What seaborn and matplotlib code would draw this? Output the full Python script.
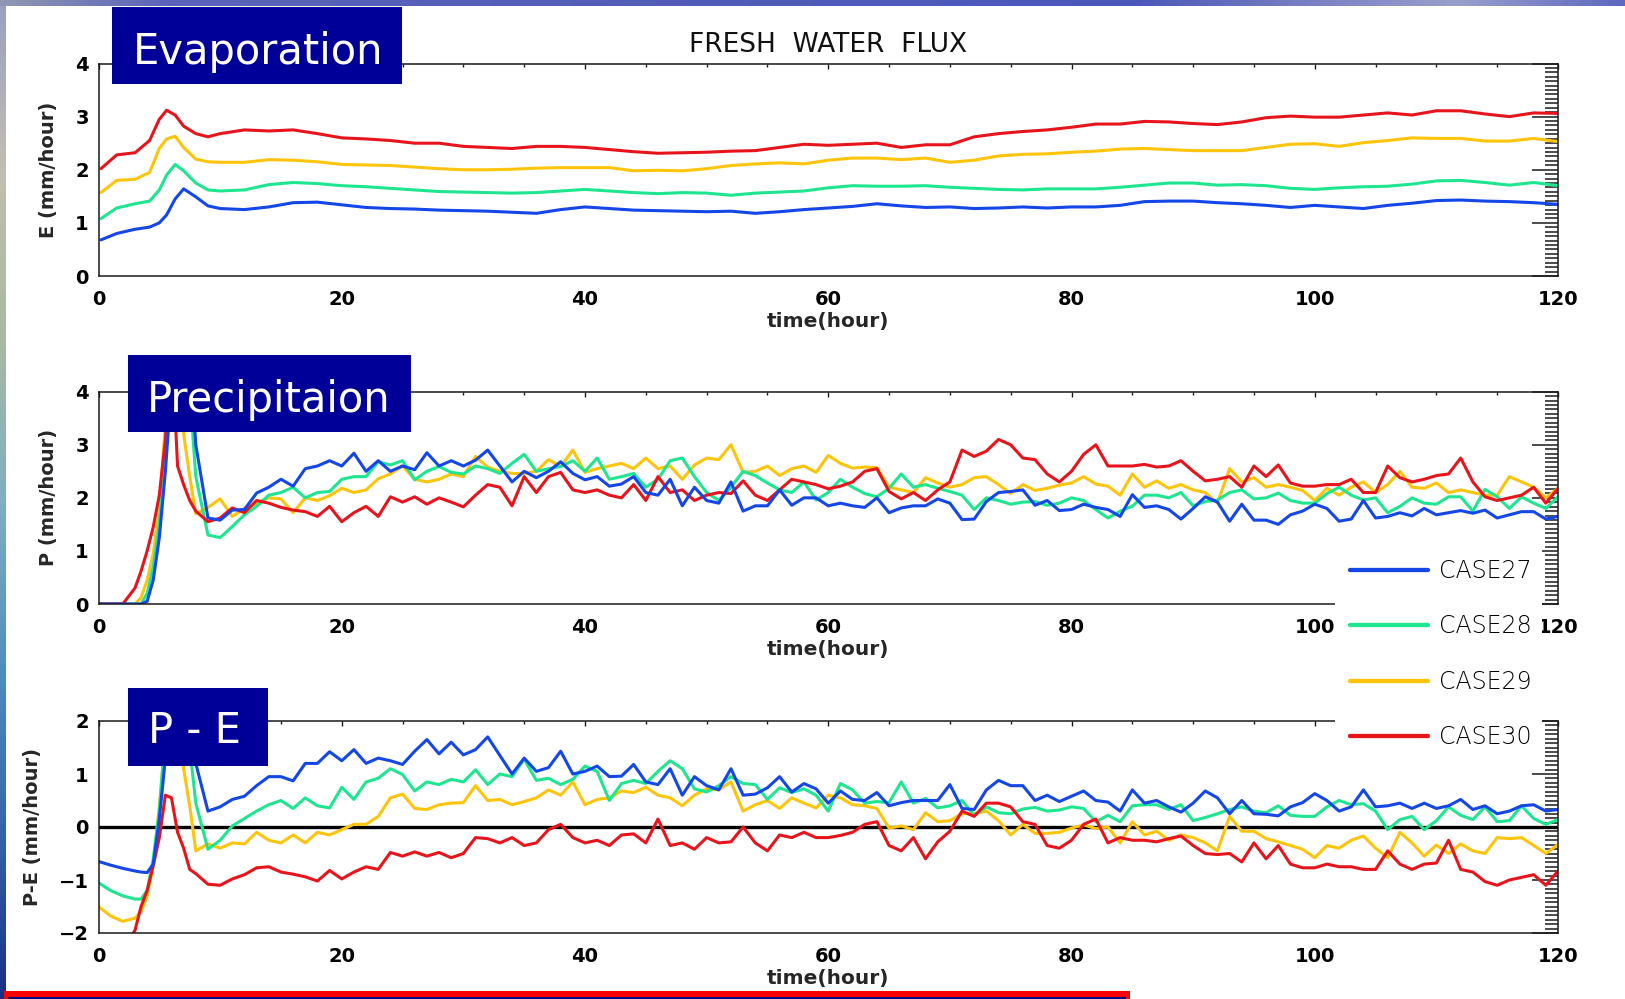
import numpy as np
import pandas as pd
import matplotlib
matplotlib.use("Agg")
import matplotlib.pyplot as plt
from matplotlib.patches import Rectangle
from matplotlib.lines import Line2D
from matplotlib.ticker import MultipleLocator
from matplotlib.colors import LinearSegmentedColormap
import seaborn as sns

W, H = 1625, 999

cases = ["CASE27", "CASE28", "CASE29", "CASE30"]
case_colors = {"CASE27": "#1446e8", "CASE28": "#1ee68f",
               "CASE29": "#fdc40c", "CASE30": "#e8141c"}
draw_order = ["CASE29", "CASE28", "CASE30", "CASE27"]

# ---------------- evaporation (smooth, sampled every 2 h after the spin-up) ----
hours_e = [0.2, 1.5, 3, 4.2, 5, 5.6, 6.3, 7, 8, 9, 10] + list(range(12, 121, 2))

evap_27 = [0.68, 0.8, 0.88, 0.92, 1.0, 1.15, 1.45, 1.64, 1.49, 1.32, 1.27,
           1.25, 1.3, 1.38, 1.39, 1.34, 1.29, 1.27, 1.26, 1.24, 1.23,
           1.22, 1.2, 1.18, 1.25, 1.3, 1.27, 1.24, 1.23, 1.22, 1.21,
           1.22, 1.18, 1.21, 1.25, 1.28, 1.31, 1.36, 1.32, 1.29, 1.3,
           1.27, 1.28, 1.3, 1.28, 1.3, 1.3, 1.33, 1.4, 1.41, 1.41,
           1.38, 1.36, 1.33, 1.29, 1.33, 1.3, 1.27, 1.33, 1.37, 1.42,
           1.43, 1.41, 1.4, 1.38, 1.35]
evap_28 = [1.08, 1.28, 1.36, 1.41, 1.62, 1.9, 2.1, 1.98, 1.75, 1.62, 1.6,
           1.62, 1.72, 1.76, 1.74, 1.7, 1.68, 1.65, 1.62, 1.59, 1.58,
           1.57, 1.56, 1.57, 1.6, 1.63, 1.6, 1.57, 1.55, 1.57, 1.56,
           1.52, 1.56, 1.58, 1.6, 1.66, 1.7, 1.69, 1.69, 1.7, 1.67,
           1.65, 1.63, 1.62, 1.64, 1.64, 1.64, 1.67, 1.71, 1.75, 1.75,
           1.71, 1.72, 1.7, 1.65, 1.63, 1.66, 1.68, 1.69, 1.73, 1.79,
           1.8, 1.76, 1.71, 1.76, 1.7]
evap_29 = [1.57, 1.8, 1.82, 1.95, 2.4, 2.58, 2.63, 2.42, 2.2, 2.15, 2.14,
           2.14, 2.19, 2.18, 2.15, 2.1, 2.09, 2.08, 2.05, 2.02, 2.0,
           2.0, 2.01, 2.03, 2.04, 2.04, 2.04, 1.98, 1.99, 1.98, 2.02,
           2.08, 2.11, 2.13, 2.11, 2.18, 2.22, 2.22, 2.19, 2.22, 2.14,
           2.18, 2.26, 2.29, 2.3, 2.33, 2.35, 2.39, 2.4, 2.38, 2.36,
           2.36, 2.36, 2.42, 2.48, 2.49, 2.44, 2.51, 2.55, 2.6, 2.59,
           2.59, 2.54, 2.54, 2.59, 2.53]
evap_30 = [2.02, 2.28, 2.32, 2.55, 2.95, 3.12, 3.03, 2.82, 2.68, 2.62, 2.68,
           2.75, 2.73, 2.75, 2.68, 2.6, 2.58, 2.55, 2.5, 2.5, 2.44,
           2.42, 2.4, 2.44, 2.44, 2.42, 2.38, 2.34, 2.31, 2.32, 2.33,
           2.35, 2.36, 2.42, 2.48, 2.46, 2.48, 2.5, 2.42, 2.47, 2.47,
           2.62, 2.68, 2.72, 2.75, 2.8, 2.86, 2.86, 2.91, 2.9, 2.87,
           2.85, 2.9, 2.98, 3.01, 2.99, 2.99, 3.03, 3.07, 3.03, 3.11,
           3.11, 3.05, 3.0, 3.07, 3.06]

# ---------------- precipitation and P-E (half-hourly spin-up, then hourly) ----
hours_p = [0, 1, 2, 3, 3.5, 4, 4.5, 5, 5.5, 6, 6.5, 7, 7.5, 8] + list(range(9, 121))

precip_27 = [0, 0, 0, 0, 0, 0.05, 0.45, 1.25, 2.5, 4.1, 5.0, 5.2, 4.8, 3.0,
             1.62, 1.58, 1.77, 1.78, 2.09, 2.2, 2.35, 2.22, 2.55, 2.6,
             2.7, 2.6, 2.84, 2.5, 2.7, 2.5, 2.6, 2.53, 2.85, 2.6,
             2.7, 2.6, 2.71, 2.9, 2.6, 2.3, 2.5, 2.38, 2.5, 2.68,
             2.46, 2.34, 2.4, 2.22, 2.26, 2.4, 2.1, 2.05, 2.35, 1.85,
             2.2, 1.95, 1.9, 2.3, 1.75, 1.85, 1.85, 2.15, 1.86, 2.0,
             2.0, 1.85, 1.9, 1.85, 1.82, 2.0, 1.72, 1.81, 1.85, 1.85,
             1.98, 1.9, 1.59, 1.6, 1.93, 2.1, 2.12, 2.15, 1.86, 1.95,
             1.76, 1.78, 1.88, 1.82, 1.78, 1.65, 2.06, 1.82, 1.85, 1.78,
             1.6, 1.8, 2.02, 1.92, 1.56, 1.88, 1.58, 1.58, 1.5, 1.68,
             1.75, 1.88, 1.8, 1.56, 1.6, 1.95, 1.62, 1.65, 1.72, 1.66,
             1.8, 1.68, 1.72, 1.76, 1.71, 1.77, 1.62, 1.68, 1.74, 1.74,
             1.6, 1.65]
precip_28 = [0, 0, 0, 0, 0, 0.2, 0.7, 1.5, 3.0, 5.0, 5.2, 4.8, 4.0, 2.4,
             1.3, 1.25, 1.46, 1.68, 1.84, 2.05, 2.1, 2.2, 2.0, 2.1,
             2.12, 2.35, 2.4, 2.4, 2.68, 2.62, 2.7, 2.34, 2.5, 2.59,
             2.48, 2.45, 2.6, 2.55, 2.46, 2.65, 2.82, 2.5, 2.55, 2.59,
             2.7, 2.5, 2.75, 2.35, 2.4, 2.46, 2.2, 2.35, 2.7, 2.75,
             2.4, 2.1, 1.95, 2.2, 2.5, 2.42, 2.28, 2.15, 2.1, 2.3,
             1.96, 2.1, 2.35, 2.2, 2.08, 2.02, 2.18, 2.45, 2.2, 2.25,
             2.18, 2.12, 2.05, 1.78, 2.0, 1.95, 1.88, 1.92, 1.93, 1.86,
             1.9, 2.0, 1.95, 1.78, 1.62, 1.75, 1.84, 2.05, 2.05, 2.0,
             2.1, 1.85, 1.93, 1.96, 2.1, 2.15, 1.98, 2.0, 2.09, 1.95,
             1.9, 1.9, 2.08, 2.2, 2.05, 1.96, 2.0, 1.72, 1.84, 2.0,
             1.9, 1.88, 2.02, 2.02, 1.75, 2.16, 2.02, 1.8, 2.02, 1.9,
             1.8, 2.02]
precip_29 = [0, 0, 0, 0, 0.12, 0.45, 0.95, 1.8, 3.4, 5.0, 4.4, 3.2, 2.4, 1.7,
             1.82, 1.98, 1.65, 1.8, 1.9, 2.0, 1.98, 1.72, 2.0, 1.95,
             2.04, 2.18, 2.1, 2.15, 2.36, 2.45, 2.6, 2.35, 2.3, 2.35,
             2.45, 2.4, 2.78, 2.58, 2.5, 2.46, 2.46, 2.5, 2.72, 2.59,
             2.9, 2.48, 2.55, 2.6, 2.65, 2.55, 2.75, 2.55, 2.6, 2.35,
             2.62, 2.75, 2.72, 3.0, 2.48, 2.5, 2.6, 2.42, 2.55, 2.6,
             2.48, 2.8, 2.65, 2.56, 2.58, 2.57, 2.2, 2.15, 2.1, 2.38,
             2.28, 2.2, 2.25, 2.38, 2.4, 2.25, 2.08, 2.25, 2.14, 2.18,
             2.24, 2.28, 2.4, 2.26, 2.22, 2.05, 2.45, 2.2, 2.32, 2.18,
             2.25, 2.15, 2.1, 1.9, 2.55, 2.3, 2.38, 2.2, 2.25, 2.2,
             2.14, 1.95, 2.18, 2.05, 2.2, 2.3, 2.1, 2.25, 2.5, 2.2,
             2.18, 2.28, 2.1, 2.15, 2.1, 2.05, 2.05, 2.4, 2.3, 2.2,
             2.0, 2.18]
precip_30 = [0, 0, 0, 0.3, 0.62, 1.0, 1.45, 2.05, 3.1, 5.0, 2.6, 2.25, 1.95, 1.75,
             1.55, 1.62, 1.81, 1.72, 1.95, 1.9, 1.82, 1.77, 1.74, 1.65,
             1.84, 1.55, 1.72, 1.84, 1.65, 2.02, 1.92, 2.02, 1.88, 2.0,
             1.92, 1.83, 2.05, 2.25, 2.2, 1.85, 2.4, 2.1, 2.4, 2.48,
             2.15, 2.1, 2.15, 2.05, 2.0, 2.25, 1.95, 2.4, 2.1, 2.15,
             1.95, 2.05, 2.1, 2.08, 2.32, 2.05, 1.95, 2.15, 2.35, 2.3,
             2.25, 2.17, 2.22, 2.3, 2.5, 2.55, 2.12, 1.98, 2.1, 1.95,
             2.15, 2.3, 2.9, 2.78, 2.88, 3.1, 3.0, 2.75, 2.72, 2.45,
             2.3, 2.5, 2.82, 3.0, 2.6, 2.6, 2.6, 2.63, 2.58, 2.6,
             2.7, 2.5, 2.32, 2.35, 2.4, 2.2, 2.6, 2.4, 2.62, 2.28,
             2.22, 2.22, 2.25, 2.25, 2.35, 2.1, 2.1, 2.6, 2.38, 2.3,
             2.35, 2.42, 2.45, 2.75, 2.3, 2.02, 1.95, 2.0, 2.05, 2.2,
             1.9, 2.18]

pme_27 = [-0.65, -0.72, -0.78, -0.83, -0.85, -0.86, -0.7, 0.15, 1.3, 2.9, 3.8, 3.6, 2.4, 1.2,
          0.3, 0.38, 0.52, 0.58, 0.78, 0.95, 0.95, 0.87, 1.2, 1.2,
          1.42, 1.25, 1.46, 1.2, 1.3, 1.25, 1.18, 1.43, 1.65, 1.38,
          1.6, 1.36, 1.46, 1.7, 1.35, 1.0, 1.3, 1.05, 1.12, 1.43,
          1.0, 1.05, 1.15, 0.95, 0.96, 1.18, 0.85, 0.8, 1.1, 0.6,
          0.95, 0.78, 0.7, 1.1, 0.6, 0.62, 0.74, 0.95, 0.66, 0.82,
          0.72, 0.45, 0.68, 0.52, 0.5, 0.65, 0.4, 0.46, 0.5, 0.5,
          0.5, 0.8, 0.35, 0.33, 0.7, 0.88, 0.78, 0.78, 0.5, 0.6,
          0.48, 0.58, 0.68, 0.5, 0.47, 0.3, 0.7, 0.45, 0.5, 0.38,
          0.28, 0.45, 0.68, 0.55, 0.25, 0.5, 0.25, 0.24, 0.21, 0.38,
          0.46, 0.63, 0.5, 0.3, 0.38, 0.7, 0.38, 0.4, 0.45, 0.35,
          0.45, 0.35, 0.4, 0.52, 0.33, 0.4, 0.25, 0.3, 0.4, 0.42,
          0.3, 0.33]
pme_28 = [-1.05, -1.2, -1.3, -1.36, -1.36, -1.2, -0.6, 0.3, 1.8, 3.0, 3.3, 2.8, 1.5, 0.45,
          -0.42, -0.25, 0.02, 0.16, 0.3, 0.42, 0.5, 0.35, 0.55, 0.4,
          0.36, 0.75, 0.52, 0.85, 0.92, 1.1, 0.99, 0.68, 0.85, 0.8,
          0.9, 0.85, 1.08, 0.8, 1.0, 0.95, 1.28, 0.88, 0.92, 0.8,
          0.9, 1.15, 1.05, 0.5, 0.82, 0.88, 0.82, 1.05, 1.25, 1.1,
          0.72, 0.66, 0.78, 0.95, 0.82, 0.8, 0.52, 0.74, 0.65, 0.72,
          0.6, 0.3, 0.82, 0.7, 0.45, 0.48, 0.46, 0.85, 0.45, 0.54,
          0.36, 0.4, 0.5, 0.22, 0.38, 0.27, 0.25, 0.34, 0.37, 0.3,
          0.32, 0.38, 0.35, 0.1, 0.22, 0.1, 0.4, 0.42, 0.42, 0.33,
          0.42, 0.12, 0.18, 0.25, 0.33, 0.38, 0.3, 0.27, 0.4, 0.22,
          0.2, 0.2, 0.38, 0.5, 0.42, 0.44, 0.3, -0.05, 0.14, 0.2,
          -0.05, 0.12, 0.38, 0.22, 0.14, 0.38, 0.1, 0.12, 0.4, 0.16,
          0.05, 0.14]
pme_29 = [-1.5, -1.68, -1.78, -1.72, -1.6, -1.3, -0.75, 0.4, 1.7, 2.6, 2.2, 1.1, 0.4, -0.45,
          -0.32, -0.4, -0.3, -0.32, -0.1, -0.25, -0.3, -0.15, -0.3, -0.1,
          -0.15, -0.05, 0.05, 0.05, 0.2, 0.55, 0.62, 0.35, 0.33, 0.42,
          0.45, 0.46, 0.78, 0.5, 0.52, 0.42, 0.48, 0.55, 0.7, 0.6,
          0.85, 0.42, 0.52, 0.55, 0.68, 0.65, 0.75, 0.6, 0.55, 0.4,
          0.6, 0.72, 0.7, 0.85, 0.3, 0.42, 0.5, 0.35, 0.55, 0.45,
          0.36, 0.6, 0.55, 0.42, 0.4, 0.35, -0.02, 0.02, -0.05, 0.27,
          0.1, 0.12, 0.25, 0.25, 0.3, 0.12, -0.15, 0.05, -0.12, -0.12,
          -0.1, -0.02, 0.04, -0.03, 0.0, -0.3, 0.1, -0.15, -0.08, -0.25,
          -0.15, -0.2, -0.3, -0.45, 0.2, -0.08, -0.08, -0.22, -0.28, -0.35,
          -0.42, -0.58, -0.35, -0.4, -0.25, -0.17, -0.4, -0.58, -0.1, -0.3,
          -0.55, -0.34, -0.5, -0.32, -0.45, -0.5, -0.2, -0.22, -0.2, -0.35,
          -0.5, -0.33]
pme_30 = [-2.05, -2.25, -2.3, -1.95, -1.5, -1.2, -0.73, -0.2, 0.6, 0.55, -0.1, -0.4, -0.8, -0.88,
          -1.08, -1.1, -0.98, -0.9, -0.77, -0.75, -0.85, -0.89, -0.94, -1.02,
          -0.82, -0.98, -0.85, -0.75, -0.8, -0.48, -0.55, -0.47, -0.55, -0.48,
          -0.58, -0.5, -0.2, -0.22, -0.3, -0.2, -0.35, -0.3, -0.05, 0.05,
          -0.2, -0.3, -0.25, -0.35, -0.15, -0.13, -0.3, 0.15, -0.35, -0.3,
          -0.42, -0.2, -0.3, -0.28, 0.0, -0.3, -0.45, -0.15, -0.2, -0.1,
          -0.2, -0.2, -0.16, -0.1, 0.05, 0.1, -0.35, -0.45, -0.2, -0.6,
          -0.28, -0.08, 0.3, 0.2, 0.45, 0.45, 0.38, 0.1, 0.05, -0.35,
          -0.4, -0.25, 0.05, 0.15, -0.3, -0.2, -0.25, -0.25, -0.28, -0.22,
          -0.17, -0.35, -0.5, -0.52, -0.5, -0.66, -0.3, -0.6, -0.35, -0.7,
          -0.77, -0.77, -0.7, -0.75, -0.75, -0.8, -0.8, -0.45, -0.7, -0.8,
          -0.7, -0.68, -0.25, -0.8, -0.85, -1.03, -1.1, -1.0, -0.95, -0.9,
          -1.1, -0.83]


def long_frame(hours, series):
    parts = [pd.DataFrame({"hour": hours, "value": vals, "case": name})
             for name, vals in series.items()]
    return pd.concat(parts, ignore_index=True)


evap_df = long_frame(hours_e, {"CASE27": evap_27, "CASE28": evap_28,
                               "CASE29": evap_29, "CASE30": evap_30})
precip_df = long_frame(hours_p, {"CASE27": precip_27, "CASE28": precip_28,
                                 "CASE29": precip_29, "CASE30": precip_30})
pme_df = long_frame(hours_p, {"CASE27": pme_27, "CASE28": pme_28,
                              "CASE29": pme_29, "CASE30": pme_30})

sns.set_theme(style="white")
plt.rcParams["font.family"] = ["DejaVu Sans"]


def fx(x):
    return x / W


def fy(y):
    return 1 - y / H


fig = plt.figure(figsize=(W / 100, H / 100), dpi=100, facecolor="white")

AX_L, AX_R = 98.5, 1558
panels = [
    (evap_df, 63.5, 276, (0, 4), "E (mm/hour)", "Evaporation", (112, 7, 402, 84), (133, 64)),
    (precip_df, 391.7, 604, (0, 4), "P (mm/hour)", "Precipitaion", (127.5, 355, 410.5, 432), (147, 412)),
    (pme_df, 721, 933, (-2, 2), "P-E (mm/hour)", "P - E", (127.5, 688, 268, 766), (148, 743)),
]

ink = "#1a1a1a"
for df, top, bottom, ylim, ylabel, tag, box, tag_xy in panels:
    ax = fig.add_axes([fx(AX_L), fy(bottom), (AX_R - AX_L) / W, (bottom - top) / H])
    ax.set_facecolor("white")
    if ylim[0] < 0:
        ax.axhline(0, color="black", lw=2.4, zorder=1)
    sns.lineplot(data=df, x="hour", y="value", hue="case", hue_order=draw_order,
                 palette=case_colors, estimator=None, linewidth=2.2,
                 legend=False, ax=ax, zorder=2)
    ax.set_xlim(0, 120)
    ax.set_ylim(*ylim)
    ax.xaxis.set_major_locator(MultipleLocator(20))
    ax.xaxis.set_minor_locator(MultipleLocator(5))
    ax.yaxis.set_major_locator(MultipleLocator(1))
    ax.yaxis.set_minor_locator(MultipleLocator(1 / 12))
    ax.tick_params(axis="both", which="both", direction="in", top=True, right=True,
                   color=ink, labelcolor="black")
    ax.tick_params(axis="x", which="major", length=3.5, width=1.0, pad=10, labelsize=14)
    ax.tick_params(axis="x", which="minor", length=2.0, width=1.0)
    ax.tick_params(axis="y", which="major", length=19, width=1.1, pad=7, labelsize=14)
    ax.tick_params(axis="y", which="minor", length=9.5, width=1.1)
    for lbl in ax.get_xticklabels() + ax.get_yticklabels():
        lbl.set_fontweight("bold")
    for sp in ax.spines.values():
        sp.set_visible(True)
        sp.set_linewidth(1.1)
        sp.set_color(ink)
    ax.set_xlabel("time(hour)", fontsize=14.5, fontweight="bold", labelpad=2)
    ax.set_ylabel(ylabel, fontsize=14, fontweight="bold", labelpad=12)

    x0, y0, x1, y1 = box
    fig.add_artist(Rectangle((fx(x0), fy(y1)), (x1 - x0) / W, (y1 - y0) / H,
                             transform=fig.transFigure, facecolor="#000099",
                             edgecolor="none", zorder=6))
    fig.text(fx(tag_xy[0]), fy(tag_xy[1]), tag, color="white", fontsize=30,
             ha="left", va="baseline", zorder=7)

fig.text(fx(828), fy(52), "FRESH  WATER  FLUX", fontsize=19,
         ha="center", va="baseline", color="#111111")

# legend sitting between the lower two panels
fig.add_artist(Rectangle((fx(1335), fy(750)), (1542 - 1335) / W, (750 - 548) / H,
                         transform=fig.transFigure, facecolor="white",
                         edgecolor="none", zorder=4))
handles = [Line2D([], [], color=case_colors[c], lw=3.1) for c in cases]
fig.legend(handles, cases, loc="upper left", bbox_to_anchor=(fx(1350), fy(559)),
           frameon=False, prop={"size": 17, "weight": "light"}, labelcolor="black",
           handlelength=3.29, handletextpad=0.5, labelspacing=1.33,
           borderpad=0, borderaxespad=0)

# slide frame: textured strip on the left, gradient band on top, bar at the bottom
left_cmap = LinearSegmentedColormap.from_list(
    "left_strip", ["#9aa0c0", "#c2bdb2", "#a9b9a2", "#7fb0c0", "#4f8fc0", "#3266aa", "#1a2f86"])
top_cmap = LinearSegmentedColormap.from_list(
    "top_strip", [(0, "#8f96b4"), (0.1, "#5a63b8"), (0.7, "#4b57b8"),
                  (0.82, "#7e84c4"), (0.9, "#9a9ecc"), (1.0, "#5f68c0")])
sax = fig.add_axes([0, 0, 6 / W, 1])
sax.imshow(np.linspace(0, 1, 200)[:, None], aspect="auto", cmap=left_cmap)
sax.set_axis_off()
tax = fig.add_axes([0, 1 - 6 / H, 1, 6 / H])
tax.imshow(np.linspace(0, 1, 400)[None, :], aspect="auto", cmap=top_cmap)
tax.set_axis_off()
fig.add_artist(Rectangle((fx(4), 0), (1130 - 4) / W, (999 - 991) / H,
                         transform=fig.transFigure, facecolor="#ff0000",
                         edgecolor="none", zorder=6))
fig.add_artist(Rectangle((fx(8), 0), (1126 - 8) / W, (999 - 996.5) / H,
                         transform=fig.transFigure, facecolor="#0a0a80",
                         edgecolor="none", zorder=7))

fig.savefig("out.png", dpi=100, facecolor="white")
